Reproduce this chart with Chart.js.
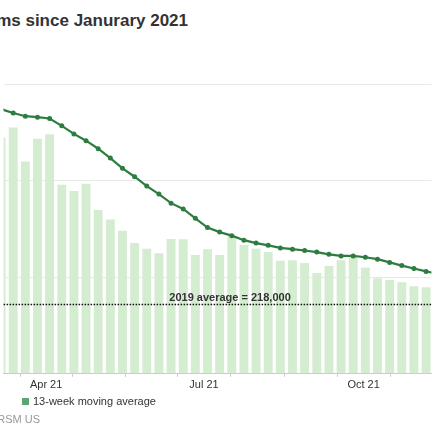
<!DOCTYPE html>
<html>
<head>
<meta charset="utf-8">
<script src="https://cdn.jsdelivr.net/npm/chart.js@4.4.1/dist/chart.umd.min.js"></script>
<style>
    html, body { margin: 0; padding: 0; background: #fff; }
    body { width: 435px; height: 435px; position: relative; overflow: hidden; font-family: "Liberation Sans", Arial, sans-serif; }
    #chart-box { position: absolute; left: 0; top: 0; width: 435px; height: 435px; }
    .title { position: absolute; top: 11px; right: 247px; white-space: nowrap; font-size: 17px; font-weight: bold; color: #333; line-height: 19px; }
    .legend-item { position: absolute; top: 395px; white-space: nowrap; font-size: 11px; color: #333; line-height: 13px; }
    .legend-item .sq { display: inline-block; width: 7px; height: 7px; margin-right: 4px; vertical-align: 0px; }
    .source { position: absolute; top: 413px; right: 395px; white-space: nowrap; font-size: 11px; color: #999; line-height: 13px; }
</style>
</head>
<body>
<div class="title">Initial jobless claims since Janurary 2021</div>
<div id="chart-box"><canvas id="claimsChart"></canvas></div>
<div class="legend-item" style="right: 442px;"><span class="sq" style="background:#d4edd0;"></span>Initial claims</div>
<div class="legend-item" style="left: 22px;"><span class="sq" style="background:#5ca571;"></span>13-week moving average</div>
<div class="source">Source: U.S. Department of Labor; RSM US</div>

<script>
/* weekly initial jobless claims, visible part of the chart */

const WEEKS = [
    '2021-03-06', '2021-03-13', '2021-03-20', '2021-03-27', '2021-04-03', '2021-04-10',
    '2021-04-17', '2021-04-24', '2021-05-01', '2021-05-08', '2021-05-15', '2021-05-22',
    '2021-05-29', '2021-06-05', '2021-06-12', '2021-06-19', '2021-06-26', '2021-07-03',
    '2021-07-10', '2021-07-17', '2021-07-24', '2021-07-31', '2021-08-07', '2021-08-14',
    '2021-08-21', '2021-08-28', '2021-09-04', '2021-09-11', '2021-09-18', '2021-09-25',
    '2021-10-02', '2021-10-09', '2021-10-16', '2021-10-23', '2021-10-30', '2021-11-06',
    '2021-11-13'
];
const CLAIMS = [
    734000, 765000, 659000, 730000, 744000, 587000,
    568000, 590000, 509000, 479000, 444000, 406000,
    388000, 374000, 419000, 418000, 369000, 387000,
    369000, 427000, 400000, 388000, 378000, 351000,
    353000, 344000, 313000, 335000, 353000, 362000,
    330000, 297000, 291000, 284000, 272000, 269000,
    268000
];
const MOVING_AVG = [
    822000, 810000, 800000, 797000, 793000, 770000,
    745000, 724000, 699000, 670000, 638000, 612000,
    583000, 558000, 530000, 512000, 483000, 454000,
    440000, 429000, 415000, 406000, 399000, 391000,
    387000, 383000, 378000, 371000, 366000, 366000,
    362000, 356000, 346000, 336000, 327000, 318000,
    310000
];
const TICK_DATES = ['2021-04-01', '2021-05-01', '2021-06-01', '2021-07-01', '2021-08-01', '2021-09-01', '2021-10-01', '2021-11-01'];
const TICK_LABELS = ['Apr 21', '', '', 'Jul 21', '', '', 'Oct 21', ''];
const AVG_2019 = 218000;
const AVG_LABEL = '2019 average = 218,000';
const AVG_LABEL_DATE = '2021-07-16';

// days since Jan 1 2021
function dayOf(s) {
    const p = s.split('-').map(Number);
    return (Date.UTC(p[0], p[1] - 1, p[2]) - Date.UTC(2021, 0, 1)) / 864e5;
}

const barData = WEEKS.map((w, i) => ({ x: dayOf(w), y: CLAIMS[i] }));
const lineData = WEEKS.map((w, i) => ({ x: dayOf(w), y: MOVING_AVG[i] }));

// dotted 2019 average line + label
const avgLine = {
    id: 'avgLine',
    afterDatasetsDraw(chart) {
        const ctx = chart.ctx, area = chart.chartArea;
        const y = Math.round(chart.scales.y.getPixelForValue(AVG_2019)) + 0.5;
        ctx.save();
        ctx.beginPath();
        ctx.setLineDash([1.5, 1.5]);
        ctx.lineWidth = 1.5;
        ctx.strokeStyle = '#111';
        ctx.moveTo(area.left, y);
        ctx.lineTo(area.right, y);
        ctx.stroke();
        ctx.setLineDash([]);
        ctx.font = 'bold 11px "Liberation Sans", Arial, sans-serif';
        ctx.fillStyle = '#333';
        ctx.textAlign = 'center';
        ctx.textBaseline = 'alphabetic';
        ctx.fillText(AVG_LABEL, chart.scales.x.getPixelForValue(dayOf(AVG_LABEL_DATE)), y - 4);
        ctx.restore();
    }
};

Chart.defaults.font.family = '"Liberation Sans", Arial, sans-serif';
Chart.defaults.animation = false;

const ctx = document.getElementById('claimsChart').getContext('2d');
new Chart(ctx, {
    type: 'bar',
    data: {
        datasets: [
            {
                type: 'line',
                label: '13-week moving average',
                data: lineData,
                borderColor: '#2e7d40',
                backgroundColor: '#2e7d40',
                borderWidth: 2.2,
                pointRadius: 1.4,
                pointHoverRadius: 1.4,
                tension: 0,
                order: 0
            },
            {
                label: 'Initial claims',
                data: barData,
                backgroundColor: '#d4edd0',
                categoryPercentage: 1,
                barPercentage: 0.73,
                order: 1
            }
        ]
    },
    options: {
        responsive: true,
        maintainAspectRatio: false,
        layout: { padding: { top: 84, bottom: 41, left: 0, right: 0 } },
        plugins: { legend: { display: false }, tooltip: { enabled: false } },
        scales: {
            x: {
                type: 'linear',
                offset: false,
                min: 65.47,
                max: 312.07,
                afterBuildTicks: function(axis) {
                    axis.ticks = TICK_DATES.map(d => ({ value: dayOf(d) }));
                },
                grid: { drawOnChartArea: false, drawTicks: true, tickLength: 3, color: '#ccc' },
                border: { color: '#c8c8c8' },
                ticks: {
                    autoSkip: false,
                    maxRotation: 0,
                    padding: 2,
                    color: '#333',
                    font: { size: 11 },
                    callback: function(v, i) { return TICK_LABELS[i]; }
                }
            },
            y: {
                min: 0,
                max: 900000,
                ticks: { display: false, stepSize: 300000 },
                grid: { color: '#e8e8e8', drawTicks: false },
                border: { display: false }
            }
        }
    },
    plugins: [avgLine]
});
</script>
</body>
</html>
